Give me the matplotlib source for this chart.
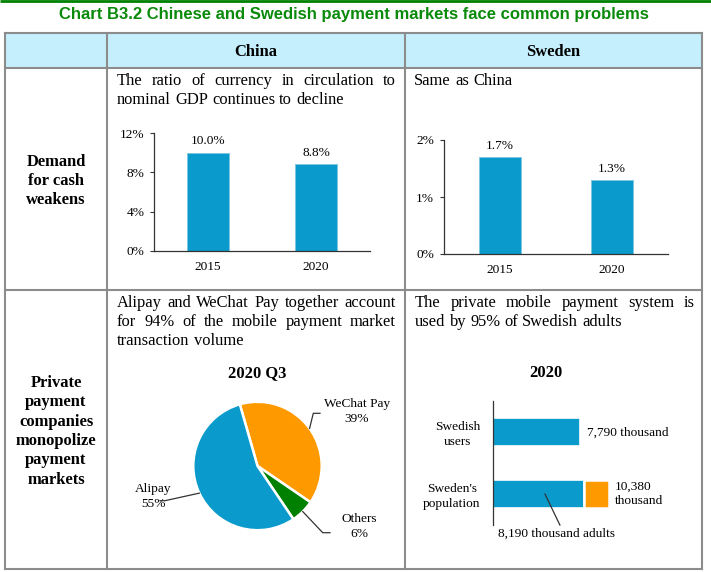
import math

import matplotlib

matplotlib.use("Agg")
import matplotlib.pyplot as plt

# ---- data ----
years = ["2015", "2020"]
china_cash_ratio = [10.0, 8.8]  # currency in circulation / nominal GDP, %
sweden_cash_ratio = [1.7, 1.3]
china_ticks = [0, 4, 8, 12]
sweden_ticks = [0, 1, 2]

pie_labels = ["WeChat Pay", "Others", "Alipay"]  # drawing order, clockwise
pie_shares = [39, 6, 55]

swe_categories = ["Sweden's\npopulation", "Swedish\nusers"]
swe_users = 7790  # thousand
swe_adults = 8190  # thousand
swe_population = 10380  # thousand

W, H = 711, 572
SERIF = "Liberation Serif"
BLUE = "#0A9ACB"
ORANGE = "#FF9900"
GREEN = "#008000"
GRID = "#8c8c8c"
AXC = "#333333"
FS = 11.9
FS_S = 9.6

plt.rcParams["font.family"] = SERIF

fig = plt.figure(figsize=(W / 100, H / 100), dpi=100)
fig.patch.set_facecolor("white")
bg = fig.add_axes([0, 0, 1, 1])
bg.set_xlim(0, W)
bg.set_ylim(H, 0)
bg.axis("off")
renderer = fig.canvas.get_renderer()


def box(left, top, right, bottom):
    return [left / W, 1 - bottom / H, (right - left) / W, (bottom - top) / H]


def text_width(s):
    t = bg.text(0, 0, s, fontsize=FS)
    w = t.get_window_extent(renderer).width
    t.remove()
    return w


SPACE = text_width("a a") - text_width("aa")


def justified(words_line, x0, x1, y, last=False):
    words = words_line.split()
    texts = [bg.text(0, y, w, va="baseline", ha="left", fontsize=FS) for w in words]
    widths = [t.get_window_extent(renderer).width for t in texts]
    if last or len(words) == 1:
        gap = SPACE
    else:
        gap = (x1 - x0 - sum(widths)) / (len(words) - 1)
    x = x0
    for t, w in zip(texts, widths):
        t.set_x(x)
        x += w + gap


def paragraph(lines, x0, x1, y0, step=18.8):
    for i, line in enumerate(lines):
        justified(line, x0, x1, y0 + i * step, last=(i == len(lines) - 1))


# ---- top green rule and title ----
bg.plot([0, W], [1, 1], color=GREEN, lw=2, solid_capstyle="butt")
bg.text(354, 19.5, "Chart B3.2 Chinese and Swedish payment markets face common problems",
        ha="center", va="baseline", fontsize=12.0, fontweight="bold",
        family="Liberation Sans", color="#0A8A0A")

# ---- table frame ----
L, C1, C2, R = 5, 107, 405, 702
T, HB, RB, B = 33, 68, 290, 569
bg.add_patch(plt.Rectangle((L, T), R - L, HB - T, facecolor="#C5EFFD", edgecolor="none", zorder=0))
for y in (T, HB, RB, B):
    bg.plot([L, R], [y, y], color=GRID, lw=1.5, solid_capstyle="projecting")
for x in (L, C1, C2, R):
    bg.plot([x, x], [T, B], color=GRID, lw=1.5, solid_capstyle="projecting")

bg.text((C1 + C2) / 2, 56.5, "China", ha="center", va="baseline", fontsize=FS, fontweight="bold")
bg.text((C2 + R) / 2, 56.5, "Sweden", ha="center", va="baseline", fontsize=FS, fontweight="bold")

for i, s in enumerate(["Demand", "for cash", "weakens"]):
    bg.text(56, 165.5 + i * 19.3, s, ha="center", va="baseline", fontsize=FS, fontweight="bold")
for i, s in enumerate(["Private", "payment", "companies", "monopolize", "payment", "markets"]):
    bg.text(56, 387 + i * 19.3, s, ha="center", va="baseline", fontsize=FS, fontweight="bold")

paragraph(["The ratio of currency in circulation to", "nominal GDP continues to decline"], 117, 396, 85)
paragraph(["Same as China"], 414, 695, 85)
paragraph(["Alipay and WeChat Pay together account", "for 94% of the mobile payment market",
           "transaction volume"], 117, 396, 307)
paragraph(["The private mobile payment system is", "used by 95% of Swedish adults"], 415, 695, 307)


# ---- cash ratio bar charts ----
def cash_bars(rect, values, ticks, width):
    ax = fig.add_axes(rect)
    ax.set_facecolor("none")
    xs = range(len(values))
    ax.bar(xs, values, width=width, color=BLUE, edgecolor="#7cc7e3", linewidth=0.6)
    ax.set_xlim(-0.5, len(values) - 0.5)
    ax.set_ylim(ticks[0], ticks[-1])
    ax.set_yticks(ticks)
    ax.set_yticklabels([f"{t}%" for t in ticks], fontsize=FS_S)
    ax.set_xticks(list(xs))
    ax.set_xticklabels(years, fontsize=FS_S)
    ax.tick_params(axis="x", length=0, pad=7)
    ax.tick_params(axis="y", length=3, width=0.8, color=AXC, pad=4)
    for s in ("top", "right"):
        ax.spines[s].set_visible(False)
    for s in ("left", "bottom"):
        ax.spines[s].set_color(AXC)
        ax.spines[s].set_linewidth(0.9)
    for x, v in zip(xs, values):
        ax.annotate(f"{v:.1f}%", (x, v), xytext=(0, 6), textcoords="offset points",
                    ha="center", va="baseline", fontsize=FS_S)
    return ax


cash_bars(box(154, 133, 370, 251), china_cash_ratio, china_ticks, 0.39)
cash_bars(box(444, 140, 668, 254), sweden_cash_ratio, sweden_ticks, 0.375)

# ---- pie: China mobile payment shares ----
bg.text(257, 377, "2020 Q3", ha="center", va="baseline", fontsize=FS, fontweight="bold")
cx, cy, r = 257.5, 466, 64.2
pax = fig.add_axes(box(cx - 75, cy - 75, cx + 75, cy + 75))
wedges, _ = pax.pie(pie_shares, colors=[ORANGE, GREEN, BLUE], startangle=106, counterclock=False,
                    wedgeprops=dict(edgecolor="white", linewidth=1.8))
pax.set_xlim(-75 / r, 75 / r)
pax.set_ylim(-75 / r, 75 / r)
pax.set_aspect("equal")
pax.axis("off")

leaders = {
    "WeChat Pay": [(313.3, 413.3), (320, 413.3)],
    "Others": [(322.7, 532.7), (330, 532.7)],
    "Alipay": [(165, 500.7), (160, 500.7)],
}
label_pos = {"WeChat Pay": (357, 407), "Others": (359, 522), "Alipay": (153, 492)}
for w, name, share in zip(wedges, pie_labels, pie_shares):
    mid = math.radians((w.theta1 + w.theta2) / 2)
    pts = [(math.cos(mid), math.sin(mid))] + [((px - cx) / r, (cy - py) / r) for px, py in leaders[name]]
    pax.plot([p[0] for p in pts], [p[1] for p in pts], color=AXC, lw=0.9, clip_on=False)
    lx, ly = label_pos[name]
    bg.text(lx, ly, name, ha="center", va="baseline", fontsize=FS_S)
    bg.text(lx, ly + 15, f"{share}%", ha="center", va="baseline", fontsize=FS_S)

# ---- Sweden users vs population ----
bg.text(546, 377, "2020", ha="center", va="baseline", fontsize=FS, fontweight="bold")
hax = fig.add_axes(box(493, 401, 643, 525))
hax.set_facecolor("none")
px_per_k = 86.7 / swe_users
hax.set_xlim(0, 150 / px_per_k)
hax.set_ylim(-0.5, 1.5)
bh = 0.44
hax.barh(1, swe_users, height=bh, color=BLUE, edgecolor="white", linewidth=1.2)
hax.barh(0, swe_adults, height=bh, color=BLUE, edgecolor="white", linewidth=1.2)
hax.barh(0, swe_population - swe_adults, left=swe_adults, height=bh, color=ORANGE,
         edgecolor="white", linewidth=1.8)
hax.set_yticks([0, 1])
hax.set_yticklabels(swe_categories, fontsize=FS_S, multialignment="center", linespacing=1.3)
hax.tick_params(axis="y", length=0, pad=9)
hax.set_xticks([])
for s in ("top", "right", "bottom"):
    hax.spines[s].set_visible(False)
hax.spines["left"].set_color(AXC)
hax.spines["left"].set_linewidth(0.9)

hax.annotate(f"{swe_users:,} thousand", (swe_users, 1), xytext=(5, -3), textcoords="offset points",
             ha="left", va="baseline", fontsize=FS_S)
hax.annotate(f"{swe_population:,}\nthousand", (swe_population, 0), xytext=(4.5, 0),
             textcoords="offset points", ha="left", va="center", fontsize=FS_S, linespacing=1.3)
hax.annotate(f"{swe_adults:,} thousand adults", (swe_adults * 0.57, 0), xytext=(8, -31),
             textcoords="offset points", ha="center", va="baseline", fontsize=FS_S,
             arrowprops=dict(arrowstyle="-", color=AXC, lw=0.9, shrinkA=0, shrinkB=0,
                             relpos=(0.54, 1.1)))

fig.savefig("out.png", dpi=100, facecolor="white")
